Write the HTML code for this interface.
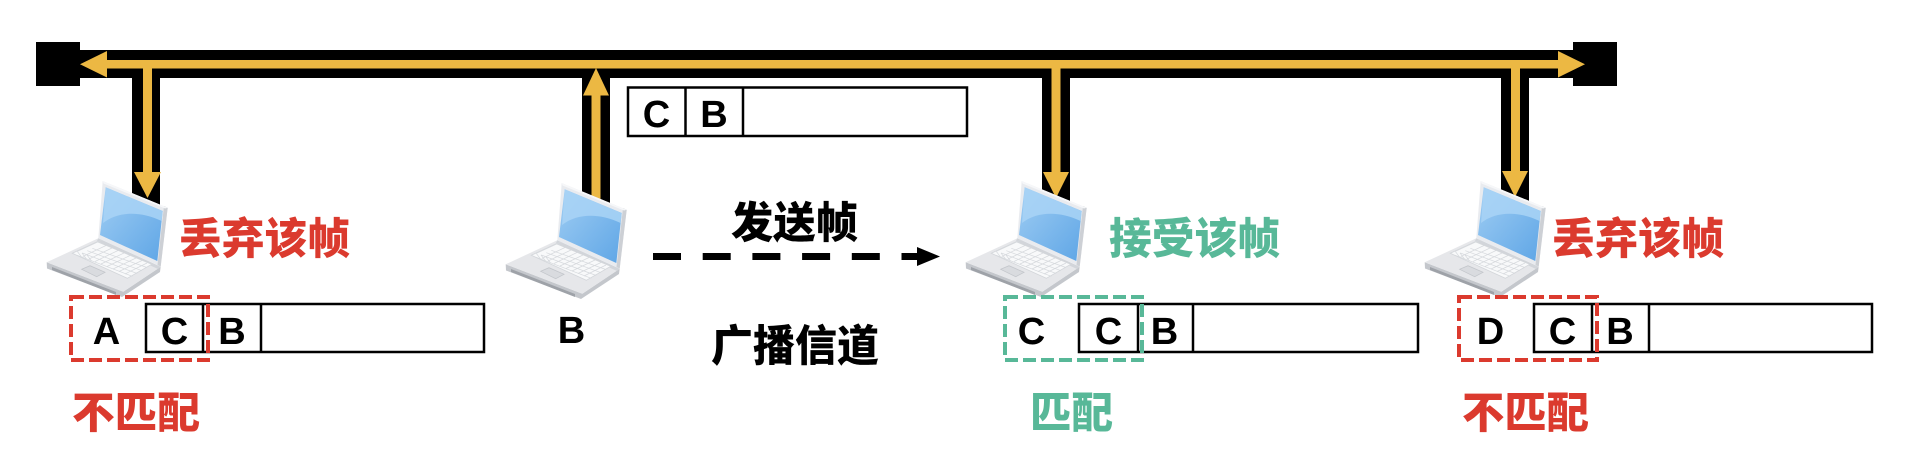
<!DOCTYPE html>
<html><head><meta charset="utf-8"><style>
html,body{margin:0;padding:0;background:#fff;}
svg{display:block;}
.cjk{font-family:"Liberation Sans","Noto Sans CJK SC","WenQuanYi Zen Hei",sans-serif;font-weight:900;font-size:43px;}
.lat{font-family:"Liberation Sans",sans-serif;font-weight:bold;font-size:38px;fill:#000;}
</style></head><body>
<svg width="1910" height="474" viewBox="0 0 1910 474" xmlns="http://www.w3.org/2000/svg">
<defs>
  <linearGradient id="scr" x1="0" y1="0" x2="1" y2="1">
    <stop offset="0" stop-color="#9fcdf3"/>
    <stop offset="1" stop-color="#5fa6e6"/>
  </linearGradient>
  <g id="laptop">
    <!-- base front/side thickness -->
    <polygon points="0.7,81.3 77.3,110.7 114.7,85.7 114,91 76,116 1,87.5" fill="#c4c7cc"/>
    <polygon points="6,86 70,111 70,114 6,89" fill="#9ea2a8"/>
    <!-- base top -->
    <polygon points="52.3,57.3 114.7,85.7 77.3,110.7 0.7,81.3" fill="#e6e7ea"/>
    <polygon points="52.3,57.3 114.7,85.7 112,88 51,60" fill="#d2d5da"/>
    <!-- keyboard -->
    <polygon points="26.3,72.3 51.3,60.7 105.7,83.3 81.3,97.3" fill="#f8f9fa" stroke="#d3d6da" stroke-width="0.8"/>
    <g stroke="#d6d9dd" stroke-width="0.7">
      <line x1="31.3" y1="74.3" x2="86.3" y2="95.3"/>
      <line x1="36.3" y1="72" x2="91.2" y2="92.5"/>
      <line x1="41.3" y1="69.7" x2="96" y2="89.7"/>
      <line x1="46.3" y1="67.3" x2="100.9" y2="86.5"/>
      <line x1="31" y1="70" x2="35.5" y2="76"/>
      <line x1="36" y1="72" x2="40.5" y2="78"/>
      <line x1="41" y1="74" x2="45.5" y2="80"/>
      <line x1="32" y1="70" x2="56" y2="59"/>
      <line x1="36.8" y1="75.5" x2="60" y2="64.5"/>
      <line x1="43" y1="78" x2="66" y2="67"/>
      <line x1="49" y1="80.5" x2="72" y2="69.5"/>
      <line x1="55" y1="83" x2="78" y2="72"/>
      <line x1="61" y1="85.5" x2="84" y2="74.5"/>
      <line x1="67" y1="88" x2="90" y2="77"/>
      <line x1="73" y1="90.5" x2="96" y2="79.5"/>
      <line x1="79" y1="93" x2="101" y2="82"/>
    </g>
    <!-- touchpad -->
    <polygon points="35.7,88.3 44,84.7 59,91.3 50.7,95.7" fill="#d9dbdf" stroke="#c3c6cb" stroke-width="0.8"/>
    <!-- lid -->
    <polygon points="56.7,0 121.7,26.7 114.7,85.5 52.3,57.3" fill="#e9ebef"/>
    <polygon points="118,25 121.7,26.7 114.7,85.5 111.5,84" fill="#cdd0d5"/>
    <polygon points="56.7,0 121.7,26.7 119,27.5 57.5,2.5" fill="#f6f7f9"/>
    <!-- screen -->
    <polygon points="59.7,6.3 116.7,30 111.3,80 54,54" fill="url(#scr)"/>
    <path d="M59.7,6.3 L116.7,30 L115.6,40 C95,30 72,30 57,42 Z" fill="#a9d4f6" opacity="0.85"/>
  </g>
</defs>

<!-- bus -->
<rect x="78" y="50" width="1497" height="28" fill="#000"/>
<!-- drops (black) -->
<rect x="132" y="70" width="28" height="140" fill="#000"/>
<rect x="582" y="70" width="28" height="140" fill="#000"/>
<rect x="1042" y="70" width="28" height="140" fill="#000"/>
<rect x="1501" y="70" width="28" height="140" fill="#000"/>
<!-- end blocks -->
<rect x="36" y="42" width="44" height="44" fill="#000"/>
<rect x="1573" y="42" width="44" height="44" fill="#000"/>
<!-- yellow line -->
<rect x="105" y="60" width="1455" height="8.5" fill="#ecb843"/>
<polygon points="80,64.2 107,51 107,77.5" fill="#ecb843"/>
<polygon points="1585,64.2 1558,51 1558,77.5" fill="#ecb843"/>
<!-- yellow verticals -->
<rect x="143" y="62" width="9" height="112" fill="#ecb843"/>
<polygon points="134,172 161,172 147.5,198" fill="#ecb843"/>
<rect x="591.5" y="93" width="9" height="115" fill="#ecb843"/>
<polygon points="583,95.5 609,95.5 596,68" fill="#ecb843"/>
<rect x="1051.5" y="62" width="9" height="112" fill="#ecb843"/>
<polygon points="1043,172 1069,172 1056,198" fill="#ecb843"/>
<rect x="1511" y="62" width="9" height="111" fill="#ecb843"/>
<polygon points="1502,171 1528,171 1515,197" fill="#ecb843"/>

<!-- laptops -->
<use href="#laptop" x="46" y="181"/>
<use href="#laptop" x="505" y="183"/>
<use href="#laptop" x="965" y="181"/>
<use href="#laptop" x="1424" y="181"/>

<!-- top frame -->
<g fill="none" stroke="#000" stroke-width="2.5">
  <rect x="628" y="87.5" width="339" height="48.5"/>
  <line x1="685.5" y1="87.5" x2="685.5" y2="136"/>
  <line x1="743" y1="87.5" x2="743" y2="136"/>
</g>
<text class="lat" x="656.5" y="127" text-anchor="middle">C</text>
<text class="lat" x="714" y="127" text-anchor="middle">B</text>

<!-- frames bottom -->
<g fill="none" stroke="#000" stroke-width="2.5">
  <rect x="146" y="304" width="338" height="48"/>
  <line x1="203" y1="304" x2="203" y2="352"/>
  <line x1="261" y1="304" x2="261" y2="352"/>
  <rect x="1079" y="304" width="339" height="48"/>
  <line x1="1138" y1="304" x2="1138" y2="352"/>
  <line x1="1193" y1="304" x2="1193" y2="352"/>
  <rect x="1534" y="304" width="338" height="48"/>
  <line x1="1592" y1="304" x2="1592" y2="352"/>
  <line x1="1649" y1="304" x2="1649" y2="352"/>
</g>
<!-- dashed boxes -->
<rect x="71" y="297" width="137" height="63" fill="none" stroke="#db3a2e" stroke-width="4" stroke-dasharray="13 5"/>
<rect x="1005" y="297" width="137" height="63" fill="none" stroke="#58b898" stroke-width="4" stroke-dasharray="13 5"/>
<rect x="1459" y="297" width="138" height="63" fill="none" stroke="#db3a2e" stroke-width="4" stroke-dasharray="13 5"/>

<!-- letters -->
<text class="lat" x="106.5" y="344" text-anchor="middle">A</text>
<text class="lat" x="174.5" y="344" text-anchor="middle">C</text>
<text class="lat" x="232" y="344" text-anchor="middle">B</text>
<text class="lat" x="571.5" y="343" text-anchor="middle">B</text>
<text class="lat" x="1031.5" y="344" text-anchor="middle">C</text>
<text class="lat" x="1108.5" y="344" text-anchor="middle">C</text>
<text class="lat" x="1164.5" y="344" text-anchor="middle">B</text>
<text class="lat" x="1490.5" y="344" text-anchor="middle">D</text>
<text class="lat" x="1562.5" y="344" text-anchor="middle">C</text>
<text class="lat" x="1620" y="344" text-anchor="middle">B</text>

<!-- dashed arrow -->
<line x1="653" y1="256.5" x2="920" y2="256.5" stroke="#000" stroke-width="7" stroke-dasharray="28 21.7"/>
<polygon points="917,247 940,256.5 917,266" fill="#000"/>

<!-- CJK labels -->
<text class="cjk" x="179" y="254" fill="#db3a2e" textLength="171" lengthAdjust="spacingAndGlyphs">丢弃该帧</text>
<text class="cjk" x="1109" y="254" fill="#58b898" textLength="171" lengthAdjust="spacingAndGlyphs">接受该帧</text>
<text class="cjk" x="1552" y="254" fill="#db3a2e" textLength="172" lengthAdjust="spacingAndGlyphs">丢弃该帧</text>
<text class="cjk" x="72" y="428" fill="#db3a2e" textLength="128" lengthAdjust="spacingAndGlyphs">不匹配</text>
<text class="cjk" x="1030" y="428" fill="#58b898" textLength="83" lengthAdjust="spacingAndGlyphs">匹配</text>
<text class="cjk" x="1462" y="428" fill="#db3a2e" textLength="127" lengthAdjust="spacingAndGlyphs">不匹配</text>
<text class="cjk" x="731" y="238" fill="#000" textLength="127" lengthAdjust="spacingAndGlyphs">发送帧</text>
<text class="cjk" x="711" y="361" fill="#000" textLength="168" lengthAdjust="spacingAndGlyphs">广播信道</text>
</svg>
</body></html>
